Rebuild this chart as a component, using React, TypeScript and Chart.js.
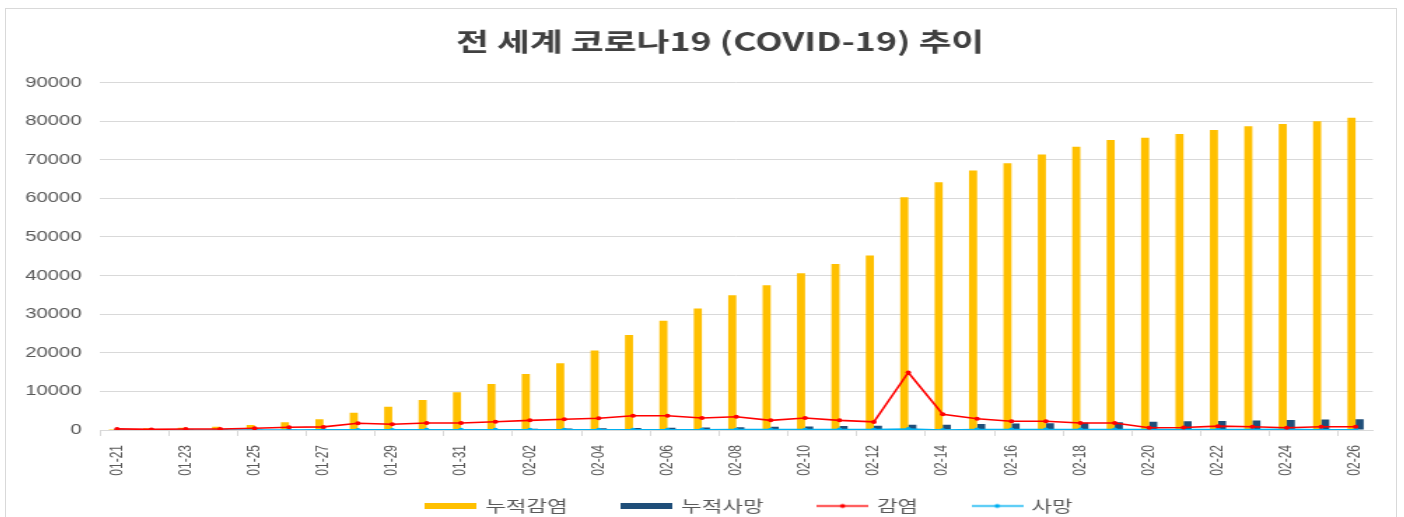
import React, { useEffect, useRef } from "react";
import { Chart, registerables } from "chart.js";

Chart.register(...registerables);

const dates: string[] = [
  "01-21", "01-22", "01-23", "01-24", "01-25", "01-26", "01-27", "01-28", "01-29", "01-30", "01-31",
  "02-01", "02-02", "02-03", "02-04", "02-05", "02-06", "02-07", "02-08", "02-09", "02-10",
  "02-11", "02-12", "02-13", "02-14", "02-15", "02-16", "02-17", "02-18", "02-19", "02-20",
  "02-21", "02-22", "02-23", "02-24", "02-25", "02-26",
];

const cumInfected: number[] = [
  280, 440, 580, 850, 1300, 2000, 2800, 4500, 6000, 7800, 9800,
  11900, 14500, 17300, 20600, 24600, 28300, 31500, 34900, 37500, 40600,
  43000, 45200, 60300, 64200, 67200, 69100, 71400, 73400, 75100, 75700,
  76700, 77700, 78700, 79300, 80000, 80900,
];

const cumDeaths: number[] = [
  6, 17, 18, 26, 41, 56, 80, 106, 132, 170, 213,
  259, 304, 361, 425, 490, 563, 636, 722, 811, 908,
  1016, 1113, 1370, 1380, 1523, 1665, 1770, 1868, 2004, 2118,
  2236, 2345, 2442, 2600, 2700, 2800,
];

const dailyInfected: number[] = [
  280, 160, 270, 270, 450, 700, 800, 1750, 1500, 1800, 1800,
  2150, 2500, 2800, 3050, 3700, 3700, 3100, 3450, 2500, 3100,
  2500, 2100, 14900, 4100, 2900, 2250, 2250, 1800, 1800, 600,
  650, 1000, 850, 600, 850, 850,
];

const dailyDeaths: number[] = [
  3, 11, 1, 8, 15, 15, 24, 26, 26, 38, 43,
  46, 45, 57, 64, 65, 73, 73, 86, 89, 97,
  108, 97, 254, 13, 143, 142, 105, 98, 136, 114,
  118, 109, 97, 150, 71, 52,
];

const yTicks: number[] = [0, 10000, 20000, 30000, 40000, 50000, 60000, 70000, 80000, 90000];

const TITLE = "전 세계 코로나19 (COVID-19) 추이";
const SERIES_NAMES = ["누적감염", "누적사망", "감염", "사망"];

const COLORS = {
  yellow: "#FFC000",
  navy: "#1F4E79",
  red: "#FF0000",
  blue: "#00B0F0",
  grid: "#D9D9D9",
  text: "#595959",
  title: "#404040",
};

const W = 993;
const H = 534;
const S = 1390 / W;
const KR = '"Noto Sans CJK KR", "Noto Sans", sans-serif';
const LAT = '"Liberation Sans", Arial, sans-serif';

function makeBoxImg(color: string): HTMLCanvasElement {
  const c = document.createElement("canvas");
  c.width = 37;
  c.height = 6;
  const g = c.getContext("2d")!;
  g.fillStyle = color;
  g.fillRect(0, 0, 37, 6);
  return c;
}

function makeLineImg(color: string): HTMLCanvasElement {
  const c = document.createElement("canvas");
  c.width = 37;
  c.height = 7;
  const g = c.getContext("2d")!;
  g.strokeStyle = color;
  g.lineWidth = 1.5;
  g.beginPath();
  g.moveTo(0, 3.5);
  g.lineTo(37, 3.5);
  g.stroke();
  g.fillStyle = color;
  g.beginPath();
  g.arc(18.5, 3.5, 2, 0, Math.PI * 2);
  g.fill();
  return c;
}

export default function App() {
  const ref = useRef<HTMLCanvasElement | null>(null);

  useEffect(() => {
    if (!ref.current) return;
    const legendImgs = [
      makeBoxImg(COLORS.yellow),
      makeBoxImg(COLORS.navy),
      makeLineImg(COLORS.red),
      makeLineImg(COLORS.blue),
    ];

    const shiftPlugin = {
      id: "shiftBlocks",
      afterLayout(chart: any) {
        const t = chart.titleBlock;
        if (t) {
          t.left += 22;
          t.right += 22;
        }
        const l = chart.legend;
        if (l) {
          l.left += 10;
          l.right += 10;
          l.top -= 19;
          l.bottom -= 19;
        }
      },
    };

    const chart = new Chart(ref.current, {
      type: "bar",
      data: {
        labels: dates,
        datasets: [
          {
            type: "bar",
            label: SERIES_NAMES[0],
            data: cumInfected,
            backgroundColor: COLORS.yellow,
            barPercentage: 1,
            categoryPercentage: 0.47,
            order: 1,
          },
          {
            type: "bar",
            label: SERIES_NAMES[1],
            data: cumDeaths,
            backgroundColor: COLORS.navy,
            barPercentage: 1,
            categoryPercentage: 0.47,
            order: 1,
          },
          {
            type: "line",
            label: SERIES_NAMES[2],
            data: dailyInfected,
            borderColor: COLORS.red,
            backgroundColor: COLORS.red,
            borderWidth: 1.6,
            pointRadius: 2,
            pointBorderWidth: 0,
            tension: 0,
            order: 0,
          },
          {
            type: "line",
            label: SERIES_NAMES[3],
            data: dailyDeaths,
            borderColor: COLORS.blue,
            backgroundColor: COLORS.blue,
            borderWidth: 1.6,
            pointRadius: 2,
            pointBorderWidth: 0,
            tension: 0,
            order: 0,
          },
        ] as any,
      },
      options: {
        responsive: false,
        animation: false,
        devicePixelRatio: 1,
        layout: { padding: { left: 0, right: 16.6, top: 0, bottom: 0 } },
        plugins: {
          title: {
            display: true,
            text: TITLE,
            color: COLORS.title,
            font: { family: KR, size: 25.5, weight: "bold" },
            padding: { top: 17, bottom: 26 },
          },
          legend: {
            position: "bottom",
            fullSize: false,
            labels: {
              usePointStyle: true,
              pointStyleWidth: 33,
              padding: 40,
              color: COLORS.text,
              font: { family: KR, size: 16 },
              sort: (a: any, b: any) => a.datasetIndex - b.datasetIndex,
              generateLabels: (c: any) =>
                (Chart.defaults.plugins.legend.labels.generateLabels as any)(c).map((item: any) => ({
                  ...item,
                  pointStyle: legendImgs[item.datasetIndex],
                })),
            },
          },
          tooltip: { enabled: false },
        },
        scales: {
          x: {
            offset: true,
            afterFit: (scale: any) => {
              scale.height = 47;
            },
            grid: {
              display: true,
              drawOnChartArea: false,
              offset: true,
              tickLength: 6,
              color: (ctx: any) => (ctx.index % 2 === 0 ? COLORS.grid : "rgba(0,0,0,0)"),
            },
            border: { display: true, color: COLORS.grid },
            ticks: {
              autoSkip: false,
              maxRotation: 90,
              minRotation: 90,
              padding: 9,
              color: COLORS.text,
              font: { family: LAT, size: 12 },
              callback: (_v: any, i: number) => (i % 2 === 0 ? dates[i] : ""),
            },
          },
          y: {
            min: 0,
            max: 90000,
            afterFit: (scale: any) => {
              scale.width = 67;
            },
            afterBuildTicks: (scale: any) => {
              scale.ticks = yTicks.map((v) => ({ value: v }));
            },
            grid: { color: COLORS.grid, drawTicks: false },
            border: { display: false },
            ticks: {
              padding: 13,
              color: COLORS.text,
              font: { family: LAT, size: 14.5 },
              callback: (v: any) => String(v),
            },
          },
        },
      },
      plugins: [shiftPlugin],
    });

    return () => chart.destroy();
  }, []);

  return (
    <div
      style={{
        position: "fixed",
        left: 5,
        top: 8,
        width: 1392,
        height: 509,
        boxSizing: "border-box",
        borderTop: "1px solid #D9D9D9",
        borderLeft: "1px solid #D9D9D9",
        borderRight: "1px solid #D9D9D9",
        overflow: "hidden",
        background: "#fff",
      }}
    >
      <div style={{ width: W, height: H, transform: `scaleX(${S})`, transformOrigin: "0 0" }}>
        <canvas ref={ref} width={W} height={H} style={{ display: "block", width: W, height: H }} />
      </div>
    </div>
  );
}
